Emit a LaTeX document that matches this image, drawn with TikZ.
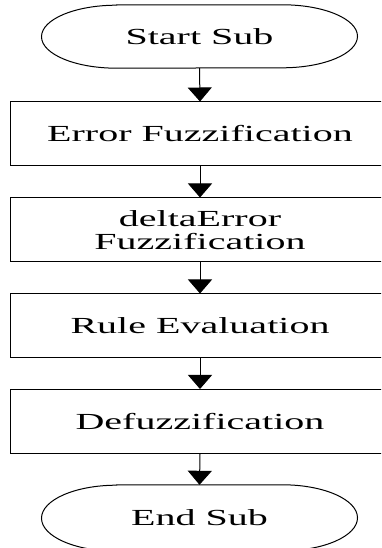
\documentclass[tikz,border=0pt]{standalone}
\usepackage{fontspec}
\setmainfont{Liberation Serif}
\usepackage{graphicx}
\usetikzlibrary{arrows.meta}
\newcommand{\wide}[1]{\scalebox{1.74}[1]{#1}}
\begin{document}
\begin{tikzpicture}[x=1pt,y=1pt,
  stepbox/.style={draw=black,line width=1pt,minimum width=380pt,minimum height=64pt,inner sep=0pt,font=\fontsize{23}{24}\selectfont,align=center},
  termnode/.style={minimum width=317pt,minimum height=63pt,inner sep=0pt,font=\fontsize{23}{24}\selectfont},
  termline/.style={draw=black,line width=1pt},
  flow/.style={draw=black,line width=1pt,-{Triangle[length=14pt,width=24pt]}}]
\useasboundingbox (0,0) rectangle (381,548);
\clip (0,0) rectangle (381,548);
\node[termnode] (start) at (199.5,511.5) {\wide{Start Sub}};
\node[stepbox] (b1) at (200,414) {\wide{Error Fuzzification}};
\node[stepbox] (b2) at (200,318) {\wide{deltaError}\\[-1pt]\wide{Fuzzification}};
\node[stepbox] (b3) at (200,222) {\wide{Rule Evaluation}};
\node[stepbox] (b4) at (200,126.5) {\wide{Defuzzification}};
\node[termnode,minimum height=66pt] (end) at (199.5,30) {\wide{End Sub}};
\draw[termline] ([xshift=-83pt]start.north) -- ([xshift=83pt]start.north)
  arc[start angle=90,end angle=-90,x radius=75pt,y radius=31.5pt]
  -- ([xshift=-83pt]start.south)
  arc[start angle=270,end angle=90,x radius=75pt,y radius=31.5pt] -- cycle;
\draw[termline] ([xshift=-83pt]end.north) -- ([xshift=83pt]end.north)
  arc[start angle=90,end angle=-90,x radius=75pt,y radius=33pt]
  -- ([xshift=-83pt]end.south)
  arc[start angle=270,end angle=90,x radius=75pt,y radius=33pt] -- cycle;
\draw[flow] (start.south) -- (b1.north);
\draw[flow] (b1.south) -- (b2.north);
\draw[flow] (b2.south) -- (b3.north);
\draw[flow] (b3.south) -- (b4.north);
\draw[flow] (b4.south) -- (end.north);
\end{tikzpicture}
\end{document}
